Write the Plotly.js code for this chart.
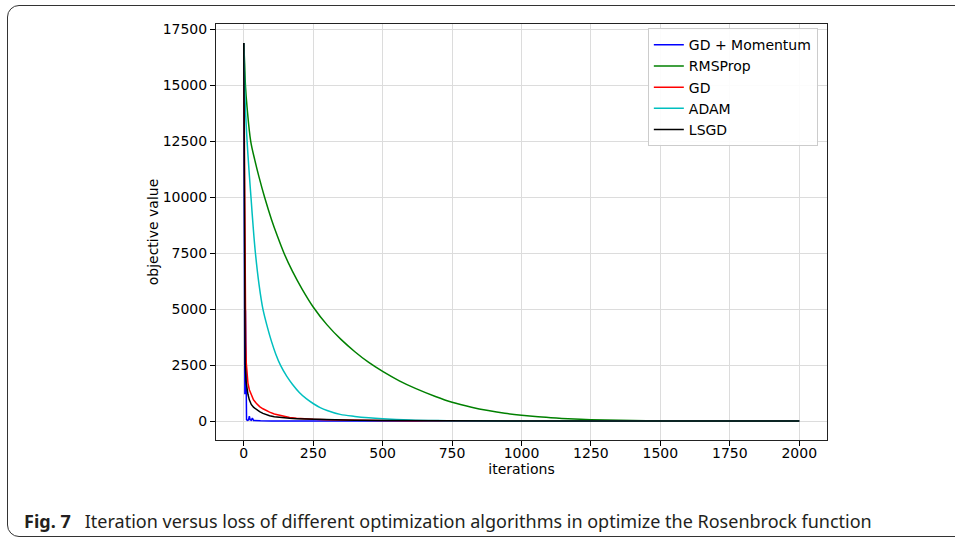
<!DOCTYPE html>
<html>
<head>
<meta charset="utf-8">
<script src="https://cdn.plot.ly/plotly-3.0.1.min.js"></script>
<style>
  html, body { margin: 0; padding: 0; background: #fff; }
  #wrap { position: relative; width: 955px; height: 540px; overflow: hidden; }
  #frame { position: absolute; left: 7px; top: 5px; width: 990px; height: 532px;
           border: 1.3px solid #333; border-radius: 12px; box-sizing: border-box; }
  #chart { position: absolute; left: 0; top: 0; width: 955px; height: 540px; }
</style>
</head>
<body>
<div id="wrap">
  <div id="frame"></div>
  <div id="chart"></div>
</div>
<script>
// ---- data ----
const seriesNames = ["GD + Momentum", "RMSProp", "GD", "ADAM", "LSGD"];

const momentumIter = [0, 2, 4, 6, 8, 10, 13, 17, 20, 23, 27, 31, 35, 40, 60, 100, 200, 2000];
const momentumVal  = [16900, 1250, 1200, 4950, 200, 60, 30, 50, 220, 60, 40, 130, 30, 20, 10, 5, 2, 0];

const rmspropIter = [0, 3, 6, 12, 25, 40, 55, 75, 100, 120, 145, 175, 210, 250, 300, 350, 400, 450, 500, 560, 620, 690, 750, 820, 880, 940, 1000, 1060, 1125, 1190, 1250, 1350, 1500, 1650, 1800, 2000];
const rmspropVal  = [16900, 16000, 15000, 14000, 12500, 11650, 10900, 10000, 9000, 8300, 7500, 6700, 5900, 5100, 4300, 3650, 3100, 2620, 2220, 1800, 1450, 1100, 840, 620, 470, 350, 260, 190, 135, 95, 65, 35, 15, 6, 2, 0];

const gdIter = [0, 3, 5, 7, 9, 12, 15, 20, 27, 35, 45, 57, 69, 80, 93, 110, 129, 145, 165, 190, 213, 250, 300, 350, 400, 500, 600, 750, 1000, 1250, 1500, 2000];
const gdVal  = [16900, 8500, 5500, 3500, 2600, 2100, 1700, 1400, 1150, 950, 800, 650, 550, 470, 400, 320, 255, 205, 165, 130, 105, 85, 65, 50, 40, 25, 17, 10, 5, 3, 2, 1];

const adamIter = [0, 3, 6, 12, 20, 26, 34, 42, 55, 69, 85, 100, 115, 132, 155, 175, 200, 225, 251, 275, 300, 347, 400, 450, 500, 600, 700, 800, 1000, 1250, 1500, 2000];
const adamVal  = [16900, 15000, 13900, 12500, 11000, 10000, 8650, 7500, 6100, 5000, 4200, 3550, 3000, 2500, 2000, 1650, 1280, 1000, 775, 605, 475, 300, 208, 147, 104, 50, 25, 13, 4, 1, 0, 0];

const lsgdIter = [0, 3, 5, 8, 11, 15, 20, 27, 35, 45, 57, 69, 80, 93, 110, 129, 145, 165, 190, 213, 250, 300, 350, 400, 500, 600, 750, 1000, 1250, 1500, 2000];
const lsgdVal  = [16900, 4900, 2600, 1800, 1450, 1200, 950, 745, 620, 520, 420, 343, 290, 240, 195, 165, 140, 125, 110, 100, 82, 62, 48, 38, 24, 16, 9, 4, 2, 1, 0];

const xTicks = [0, 250, 500, 750, 1000, 1250, 1500, 1750, 2000];
const yTicks = [0, 2500, 5000, 7500, 10000, 12500, 15000, 17500];

const captionBold = "Fig. 7";
const captionText = "Iteration versus loss of different optimization algorithms in optimize the Rosenbrock function";

// ---- build ----
const xs = [momentumIter, rmspropIter, gdIter, adamIter, lsgdIter];
const ys = [momentumVal, rmspropVal, gdVal, adamVal, lsgdVal];
const colors = ["#0000ff", "#008000", "#ff0000", "#00bfbf", "#000000"];
const shapes = ["linear", "spline", "linear", "spline", "linear"];

const traces = seriesNames.map((n, i) => ({
  type: "scatter", mode: "lines", name: n,
  legendgroup: "g" + i,
  x: xs[i], y: ys[i],
  line: { color: colors[i], width: 1.5, shape: shapes[i], smoothing: 1 }
}));

const tickFont = { family: "DejaVu Sans", size: 14, color: "#000" };

const layout = {
  width: 955, height: 540,
  margin: { l: 216, r: 128, t: 24, b: 100 },
  paper_bgcolor: "rgba(0,0,0,0)",
  plot_bgcolor: "#fff",
  showlegend: true,
  legend: {
    x: 0.985, y: 0.99, xanchor: "right", yanchor: "top",
    bgcolor: "rgba(255,255,255,0.9)", bordercolor: "#cccccc", borderwidth: 1,
    tracegroupgap: 0, itemwidth: 30,
    font: { family: "DejaVu Sans", size: 14, color: "#000" }
  },
  xaxis: {
    range: [-100, 2100], tickvals: xTicks, tickformat: "d",
    ticks: "outside", ticklen: 5, tickwidth: 1, tickcolor: "#000",
    ticklabelstandoff: -5,
    showline: true, mirror: true, linecolor: "#222", linewidth: 1,
    showgrid: true, gridcolor: "#dcdcdc", gridwidth: 1, zeroline: false,
    tickfont: tickFont,
    title: { text: "iterations", font: tickFont, standoff: 3 }
  },
  yaxis: {
    range: [-845, 17745], tickvals: yTicks, tickformat: "d",
    ticks: "outside", ticklen: 5, tickwidth: 1, tickcolor: "#000",
    showline: true, mirror: true, linecolor: "#222", linewidth: 1,
    showgrid: true, gridcolor: "#dcdcdc", gridwidth: 1, zeroline: false,
    tickfont: tickFont,
    title: { text: "objective value", font: tickFont, standoff: 0 }
  },
  annotations: [{
    xref: "paper", yref: "paper",
    x: (22 - 216) / 611, y: (440 - 521) / 416,
    xanchor: "left", yanchor: "middle", showarrow: false,
    text: "<b>" + captionBold + "</b>\u00a0\u00a0\u00a0" + captionText,
    font: { family: "Noto Sans", size: 18, color: "#231f20" }
  }]
};

Plotly.newPlot("chart", traces, layout, { displayModeBar: false, staticPlot: true });
</script>
</body>
</html>
